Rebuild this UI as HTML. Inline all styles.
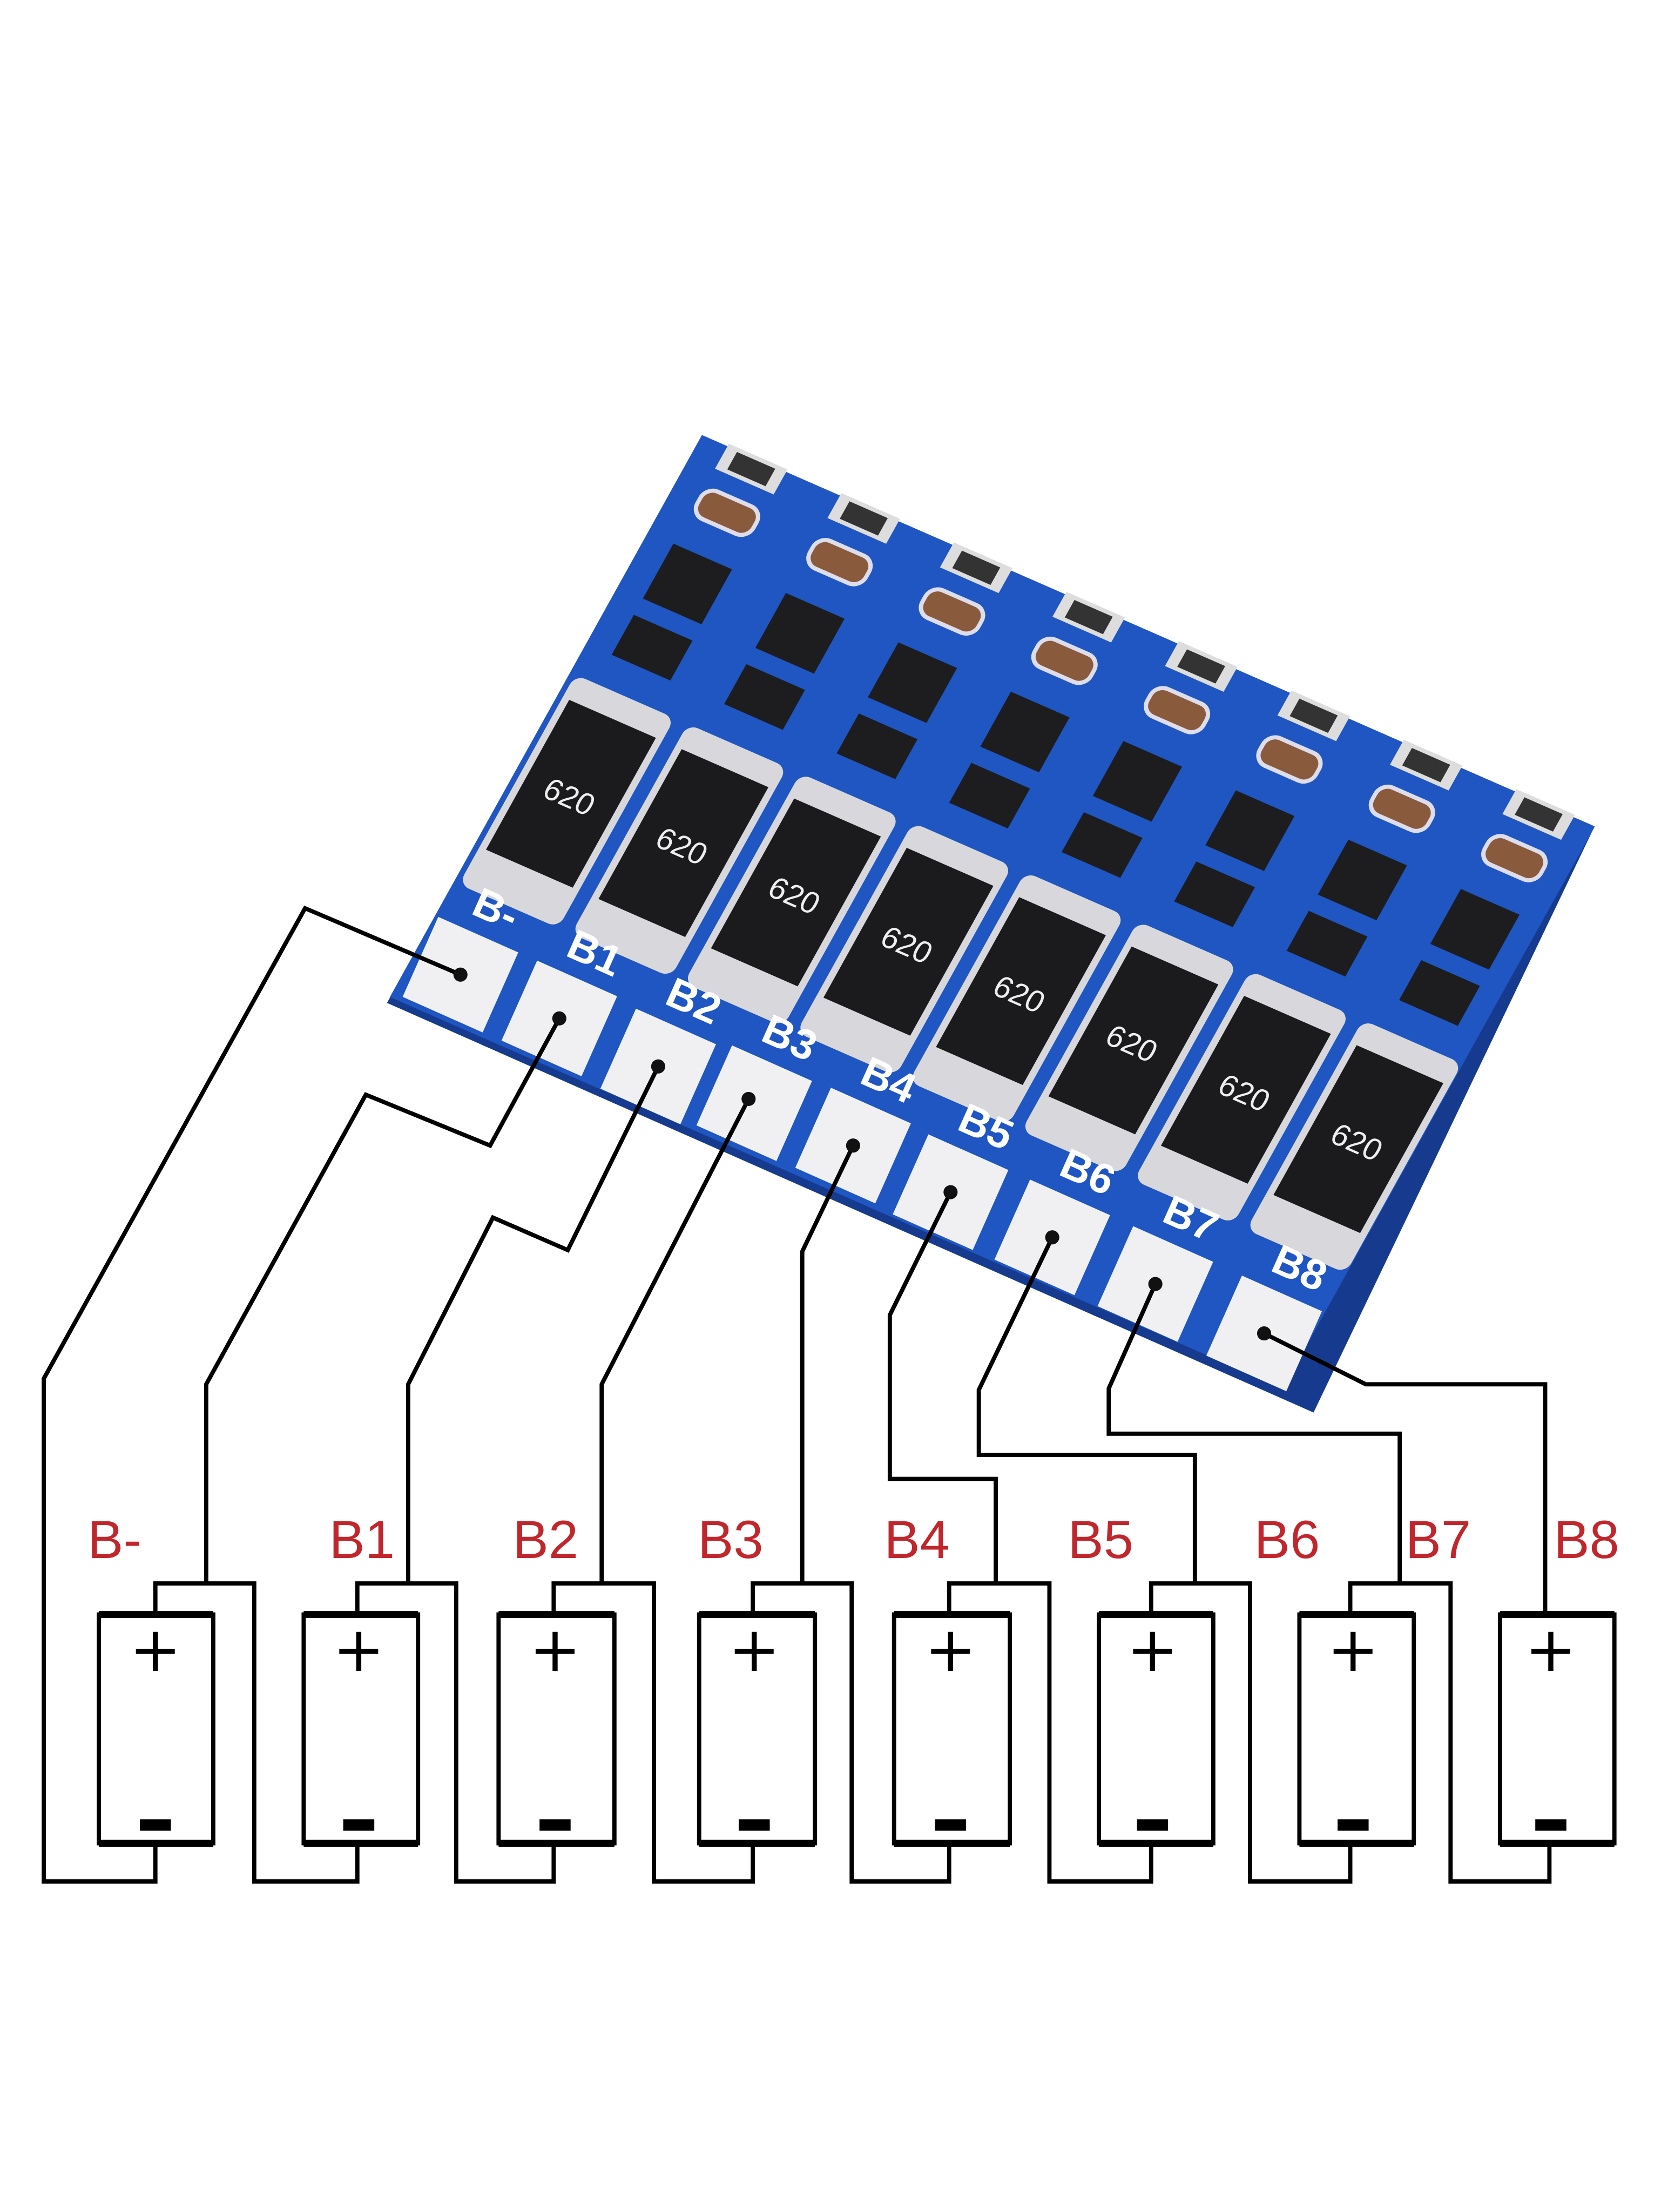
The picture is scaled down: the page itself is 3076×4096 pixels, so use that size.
<!DOCTYPE html>
<html><head><meta charset="utf-8"><style>
html,body{margin:0;padding:0;background:#fff;}
svg{display:block;}
</style></head><body>
<svg width="3076" height="4096" viewBox="0 0 1176 1566" preserveAspectRatio="none" xmlns="http://www.w3.org/2000/svg">
<rect width="1176" height="1566" fill="#fff"/>
<!-- board -->
<polygon points="497,308 1129,585 930,1000 274,710" fill="#163b8e"/>
<g transform="matrix(0.903,0.396,-0.491,0.884,497,308)" font-family="Liberation Sans, sans-serif">
  <rect x="0" y="0" width="700" height="450" fill="#1f56c2"/>
  <g id="c0">
    <rect x="20" y="-2" width="46" height="20" fill="#ddd"/><rect x="28" y="1" width="30" height="14" fill="#333"/>
    <rect x="21" y="32" width="44" height="22" rx="9" fill="#8a5a3c" stroke="#dde" stroke-width="3"/>
    <rect x="20" y="78" width="46" height="44" fill="#1d1d1f"/>
    <rect x="20" y="135" width="46" height="32" fill="#1d1d1f"/>
    <rect x="4" y="190" width="78" height="168" rx="8" fill="#d8d8dc"/>
    <rect x="9" y="208" width="68" height="120" fill="#1b1b1d"/>
    <text x="43" y="278" fill="#eee" font-size="22" text-anchor="middle">620</text>
  </g>
  <use href="#c0" x="88.2"/><use href="#c0" x="176.4"/><use href="#c0" x="264.6"/>
  <use href="#c0" x="352.8"/><use href="#c0" x="441"/><use href="#c0" x="529.2"/><use href="#c0" x="617.4"/>
</g>
<!-- pads -->
<g fill="#f0f0f3">
  <rect x="-31" y="-31" width="62" height="62" transform="translate(326,690) rotate(24)"/>
  <rect x="-31" y="-31" width="62" height="62" transform="translate(396,721) rotate(24)"/>
  <rect x="-31" y="-31" width="62" height="62" transform="translate(466,755) rotate(24)"/>
  <rect x="-31" y="-31" width="62" height="62" transform="translate(534,781) rotate(24)"/>
  <rect x="-31" y="-31" width="62" height="62" transform="translate(604,811) rotate(24)"/>
  <rect x="-31" y="-31" width="62" height="62" transform="translate(673,844) rotate(24)"/>
  <rect x="-31" y="-31" width="62" height="62" transform="translate(745,876) rotate(24)"/>
  <rect x="-31" y="-31" width="62" height="62" transform="translate(818,909) rotate(24)"/>
  <rect x="-31" y="-31" width="62" height="62" transform="translate(895,944) rotate(24)"/>
</g>
<g fill="#fff" font-family="Liberation Sans, sans-serif" font-size="30" font-weight="bold" text-anchor="middle">
  <text transform="translate(347,653) rotate(24)">B-</text>
  <text transform="translate(417,684) rotate(24)">B1</text>
  <text transform="translate(487,718) rotate(24)">B2</text>
  <text transform="translate(555,744) rotate(24)">B3</text>
  <text transform="translate(625,774) rotate(24)">B4</text>
  <text transform="translate(694,807) rotate(24)">B5</text>
  <text transform="translate(766,839) rotate(24)">B6</text>
  <text transform="translate(839,872) rotate(24)">B7</text>
  <text transform="translate(916,907) rotate(24)">B8</text>
</g>
<!-- wires -->
<g fill="none" stroke="#000" stroke-width="3" stroke-linejoin="miter">
  <polyline points="326,690 216,643 31,976 31,1332 110,1332 110,1305"/>
  <polyline points="396,721 347,811 259,775 146,980 146,1121"/>
  <polyline points="466,755 402,885 349,862 289,980 289,1121"/>
  <polyline points="530,778 426,980 426,1121"/>
  <polyline points="604,811 568,886 568,1121"/>
  <polyline points="673,844 630,931 630,1047 705,1047 705,1121"/>
  <polyline points="745,876 693,984 693,1030 846,1030 846,1121"/>
  <polyline points="818,909 785,983 785,1015 991,1015 991,1121"/>
  <polyline points="895,944 967,980 1094,980 1094,1143"/>
  <polyline points="110,1143 110,1121 180,1121 180,1332 253,1332 253,1305"/>
  <polyline points="253,1143 253,1121 323,1121 323,1332 392,1332 392,1305"/>
  <polyline points="392,1143 392,1121 463,1121 463,1332 533,1332 533,1305"/>
  <polyline points="533,1143 533,1121 603,1121 603,1332 672,1332 672,1305"/>
  <polyline points="672,1143 672,1121 743,1121 743,1332 815,1332 815,1305"/>
  <polyline points="815,1143 815,1121 885,1121 885,1332 956,1332 956,1305"/>
  <polyline points="956,1143 956,1121 1027,1121 1027,1332 1097,1332 1097,1305"/>
</g>
<g fill="#111">
  <circle cx="326" cy="690" r="5"/><circle cx="396" cy="721" r="5"/><circle cx="466" cy="755" r="5"/>
  <circle cx="530" cy="778" r="5"/><circle cx="604" cy="811" r="5"/><circle cx="673" cy="844" r="5"/>
  <circle cx="745" cy="876" r="5"/><circle cx="818" cy="909" r="5"/><circle cx="895" cy="944" r="5"/>
</g>
<!-- batteries -->
<g fill="none" stroke="#000" stroke-width="3">
  <rect x="70" y="1143" width="81" height="162"/><rect x="215" y="1143" width="81" height="162"/>
  <rect x="353" y="1143" width="82" height="162"/><rect x="495" y="1143" width="82" height="162"/>
  <rect x="633" y="1143" width="82" height="162"/><rect x="778" y="1143" width="81" height="162"/>
  <rect x="920" y="1143" width="81" height="162"/><rect x="1062" y="1143" width="81" height="162"/>
</g>
<g stroke="#000" stroke-width="5">
  <line x1="70" y1="1143" x2="151" y2="1143"/><line x1="70" y1="1305" x2="151" y2="1305"/>
  <line x1="215" y1="1143" x2="296" y2="1143"/><line x1="215" y1="1305" x2="296" y2="1305"/>
  <line x1="353" y1="1143" x2="435" y2="1143"/><line x1="353" y1="1305" x2="435" y2="1305"/>
  <line x1="495" y1="1143" x2="577" y2="1143"/><line x1="495" y1="1305" x2="577" y2="1305"/>
  <line x1="633" y1="1143" x2="715" y2="1143"/><line x1="633" y1="1305" x2="715" y2="1305"/>
  <line x1="778" y1="1143" x2="859" y2="1143"/><line x1="778" y1="1305" x2="859" y2="1305"/>
  <line x1="920" y1="1143" x2="1001" y2="1143"/><line x1="920" y1="1305" x2="1001" y2="1305"/>
  <line x1="1062" y1="1143" x2="1143" y2="1143"/><line x1="1062" y1="1305" x2="1143" y2="1305"/>
</g>
<g font-family="DejaVu Sans, sans-serif" font-size="44" text-anchor="middle" fill="#000">
  <text x="110" y="1183">+</text><text x="254" y="1183">+</text><text x="393" y="1183">+</text><text x="534" y="1183">+</text>
  <text x="673" y="1183">+</text><text x="816" y="1183">+</text><text x="958" y="1183">+</text><text x="1098" y="1183">+</text>
</g>
<g fill="#000">
  <rect x="99" y="1288" width="22" height="8"/><rect x="243" y="1288" width="22" height="8"/>
  <rect x="382" y="1288" width="22" height="8"/><rect x="523" y="1288" width="22" height="8"/>
  <rect x="662" y="1288" width="22" height="8"/><rect x="805" y="1288" width="22" height="8"/>
  <rect x="947" y="1288" width="22" height="8"/><rect x="1087" y="1288" width="22" height="8"/>
</g>
<g font-family="Liberation Sans, sans-serif" font-size="38" fill="#c0272d">
  <text x="62" y="1103">B-</text><text x="233" y="1103">B1</text><text x="363" y="1103">B2</text>
  <text x="494" y="1103">B3</text><text x="626" y="1103">B4</text><text x="756" y="1103">B5</text>
  <text x="888" y="1103">B6</text><text x="995" y="1103">B7</text><text x="1100" y="1103">B8</text>
</g>
</svg>
</body></html>
